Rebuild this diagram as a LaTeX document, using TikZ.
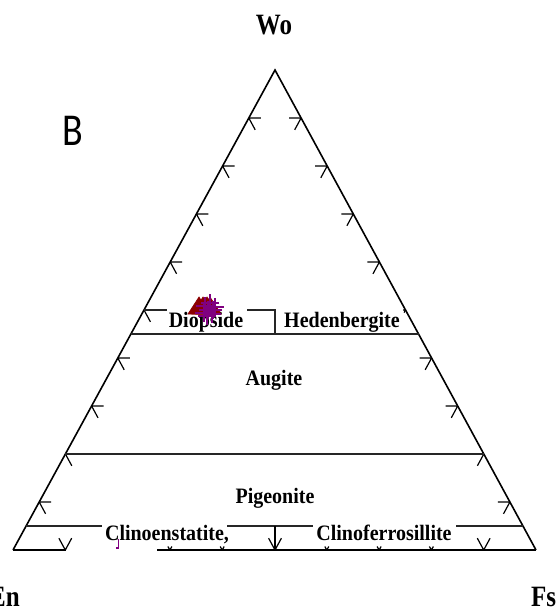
\documentclass[tikz,border=0pt]{standalone}
\usepackage{fontspec}
\setmainfont{Liberation Serif}
\newfontfamily\panelfont{Carlito}
\usetikzlibrary{calc}
\definecolor{mkred}{RGB}{139,0,0}
\definecolor{mkpur}{RGB}{128,0,128}
\newcommand{\ystretch}[2]{\scalebox{1}[#1]{#2}}
\begin{document}
\begin{tikzpicture}[x=1pt,y=-1pt,
  edge/.style={line width=1.6pt, black},
  bound/.style={line width=1.4pt, black!85},
  tickmark/.style={line width=1.2pt, black},
  lab/.style={font=\fontsize{20}{22}\selectfont\bfseries, inner sep=0pt, anchor=base},
  corner/.style={font=\fontsize{25}{28}\selectfont\bfseries, inner sep=0pt, anchor=base},
  marker/.style={line width=1.1pt, mkpur},
]
\useasboundingbox (0,0) rectangle (555,607);
\clip (0,0) rectangle (555,607);
% vertices
\coordinate (A) at (275,70);
\coordinate (L) at (13,550);
\coordinate (R) at (536,550);
\coordinate (b1) at (66,550);
\coordinate (b2) at (157,550);
% triangle edges
\draw[edge] (L) -- (A) -- (R);
\draw[edge] (L) -- (b1);
\draw[edge] (b2) -- (R);
% side ticks
\foreach \k in {1,2,3,4,6,7,8,9}{
  \draw[tickmark] ($(A)!\k/10!(L)$) coordinate (l\k) -- ++(12,0) (l\k) -- ++(6.4,11.8);
  \draw[tickmark] ($(A)!\k/10!(R)$) coordinate (r\k) -- ++(-12,0) (r\k) -- ++(-6.4,11.8);
}
\draw[tickmark] ($(A)!0.5!(L)$) coordinate (l5) -- ++(6.4,11.8);
\draw[tickmark] ($(A)!0.5!(R)$) coordinate (r5) -- ++(-2.5,0) (r5) -- ++(-1.4,2.6);
% bottom ticks
\foreach \k in {1,9}{
  \draw[tickmark] ($(L)!\k/10!(R)$) coordinate (bt\k) -- ++(-6.4,-11.8) (bt\k) -- ++(6.4,-11.8);
}
\foreach \k in {3,4,6,7,8}{
  \draw[tickmark] ($(L)!\k/10!(R)$) coordinate (bt\k) -- ++(-2,-3.5) (bt\k) -- ++(2,-3.5);
}
% field boundaries
\coordinate (w45l) at ($(A)!0.55!(L)$);
\coordinate (w45r) at ($(A)!0.55!(R)$);
\coordinate (w20l) at ($(A)!0.8!(L)$);
\coordinate (w20r) at ($(A)!0.8!(R)$);
\coordinate (w50l) at ($(A)!0.5!(L)$);
\coordinate (w5l) at ($(A)!0.95!(L)$);
\coordinate (w5r) at ($(A)!0.95!(R)$);
\draw[bound] (w45l) -- (w45r);
\draw[bound] (w20l) -- (w20r);
\draw[bound] (w50l) -- (w50l -| 167,0);
\draw[bound] (w50l -| 247,0) -- (w50l -| A) -- (w45l -| A);
\draw[bound] (w5l) -- (w5l -| 102,0);
\draw[bound] (w5l -| 227,0) -- (w5l -| 313,0);
\draw[bound] (w5l -| 456,0) -- (w5r);
% central divider with arrow
\coordinate (c5) at (w5l -| A);
\coordinate (c0) at (L -| A);
\draw[tickmark] (c5) -- (c0);
\draw[tickmark] (c0) -- ++(-6.4,-11.8) (c0) -- ++(6.4,-11.8);
% labels
\node[corner] (wo) at (274,35) {\ystretch{1.18}{Wo}};
\node[corner] (en) at (4.5,606) {\ystretch{1.18}{En}};
\node[corner, anchor=base west] (fs) at (531,606) {\ystretch{1.18}{Fs}};
\node[anchor=base west, inner sep=0pt, font=\panelfont\fontsize{38}{40}\selectfont] (panel) at (62,145) {\ystretch{1.2}{B}};
\node[lab] (diop) at (206,327) {\ystretch{1.1}{Diopside}};
\node[lab] (hed) at (342,327) {\ystretch{1.1}{Hedenbergite}};
\node[lab] (aug) at (274,385) {\ystretch{1.1}{Augite}};
\node[lab] (pig) at (275,503) {\ystretch{1.1}{Pigeonite}};
\node[lab] (cen) at (167,540) {\ystretch{1.1}{Clinoenstatite,}};
\node[lab] (cfs) at (384,540) {\ystretch{1.1}{Clinoferrosillite}};
% data markers
\foreach \x in {199,203,207,210}{
  \filldraw[mkred, line width=0.7pt] (\x,297) -- ++(11,17) -- ++(-22,0) -- cycle;
}
\foreach \p in {(205,306),(208,310),(212,314),(204,313),(215,307),(210,303),(207,316),(213,310)}{
  \draw[marker] \p ++(-9,0) -- ++(18,0) \p ++(0,-9) -- ++(0,18);
}
\draw[marker] (118.5,539) -- (118.5,548) -- (115.5,548);
\end{tikzpicture}
\end{document}
